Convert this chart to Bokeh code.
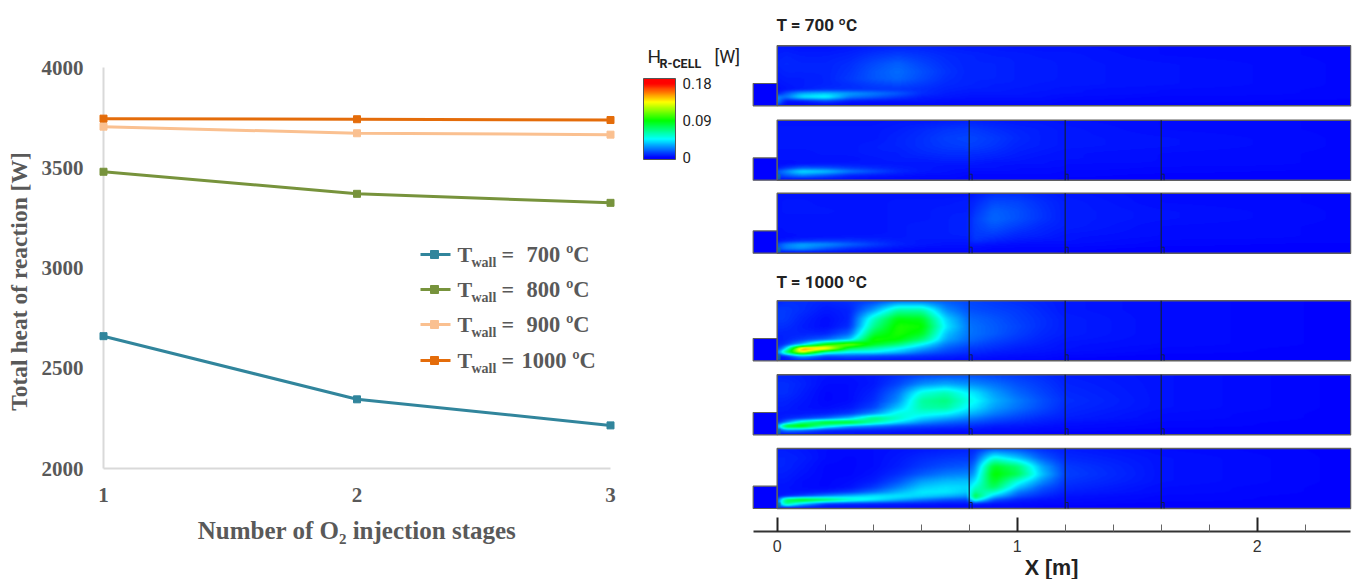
import numpy as np
from bokeh.core.properties import value
from bokeh.embed import file_html
from bokeh.layouts import row
from bokeh.models import ColorBar, FixedTicker, Label, LinearColorMapper, Range1d
from bokeh.plotting import figure
from bokeh.resources import INLINE

# ---------- line chart data ----------
stages = [1, 2, 3]
heat_700 = [2660, 2345, 2215]
heat_800 = [3480, 3370, 3325]
heat_900 = [3705, 3672, 3665]
heat_1000 = [3745, 3742, 3738]
series_temps = ["700", "800", "900", "1000"]
series_colors = ["#31859C", "#77933C", "#FAC090", "#E46C0A"]
y_ticks = [2000, 2500, 3000, 3500, 4000]

# ---------- heat fields, in 0.001 W ----------
field_x = [0, .03, .1, .2, .3, .4, .5, .6, .7, .8, .81, .9, 1.0, 1.1, 1.2, 1.6, 2.39]
field_y = [1.0, .85, .7, .57, .45, .35, .27, .2, .14, .07, 0]  # fraction of height, top row first

field_700_1 = [
    [4, 4, 3, 3, 4, 5, 6, 6, 5, 4, 4, 4, 3, 3, 3, 2, 1],
    [5, 6, 5, 5, 6, 9, 11, 9, 7, 6, 6, 5, 5, 4, 4, 2, 1],
    [6, 7, 6, 6, 8, 13, 17, 12, 8, 6, 6, 6, 5, 5, 4, 3, 1],
    [5, 6, 6, 6, 9, 15, 19, 14, 9, 6, 6, 6, 5, 5, 4, 3, 1],
    [4, 5, 5, 6, 10, 15, 18, 13, 8, 6, 6, 6, 5, 5, 4, 3, 1],
    [3, 4, 5, 6, 8, 11, 13, 10, 7, 6, 6, 5, 5, 4, 4, 3, 1],
    [2, 3, 5, 8, 8, 9, 9, 8, 6, 5, 5, 5, 4, 4, 3, 2, 1],
    [4, 14, 30, 35, 28, 22, 16, 8, 5, 4, 4, 4, 4, 3, 3, 2, 1],
    [25, 20, 42, 48, 22, 16, 10, 5, 4, 3, 3, 3, 3, 3, 2, 1, 1],
    [25, 3, 4, 12, 4, 3, 3, 3, 2, 2, 2, 2, 2, 2, 1, 1, 0],
    [10, 1, 1, 1, 1, 1, 1, 1, 1, 1, 1, 1, 1, 1, 1, 0, 0],
]
field_700_2 = [
    [3, 3, 3, 3, 3, 3, 4, 4, 5, 6, 6, 5, 4, 4, 3, 2, 1],
    [4, 4, 4, 4, 4, 4, 5, 7, 9, 10, 10, 8, 6, 5, 4, 2, 1],
    [4, 4, 4, 4, 4, 4, 6, 8, 11, 12, 12, 10, 7, 5, 4, 3, 1],
    [4, 4, 4, 4, 4, 5, 6, 8, 10, 11, 11, 9, 6, 5, 4, 3, 1],
    [3, 3, 3, 4, 4, 5, 5, 7, 8, 8, 8, 7, 5, 4, 3, 2, 1],
    [3, 3, 3, 3, 3, 4, 5, 5, 6, 6, 6, 5, 4, 3, 3, 2, 1],
    [2, 2, 3, 4, 4, 4, 4, 4, 4, 4, 4, 3, 3, 3, 2, 2, 1],
    [4, 8, 16, 14, 10, 7, 5, 4, 3, 3, 3, 3, 2, 2, 2, 1, 1],
    [15, 24, 42, 36, 22, 14, 7, 4, 3, 2, 2, 2, 2, 2, 1, 1, 0],
    [10, 15, 22, 14, 6, 4, 3, 2, 2, 1, 1, 1, 1, 1, 1, 0, 0],
    [3, 2, 2, 2, 2, 1, 1, 1, 1, 1, 1, 1, 1, 1, 0, 0, 0],
]
field_700_3 = [
    [3, 3, 3, 3, 3, 3, 3, 3, 3, 3, 4, 8, 8, 6, 4, 2, 1],
    [3, 4, 4, 3, 3, 3, 4, 4, 4, 5, 6, 13, 12, 8, 5, 2, 1],
    [3, 4, 4, 4, 3, 3, 4, 4, 5, 5, 8, 17, 14, 9, 5, 3, 1],
    [3, 3, 3, 3, 3, 3, 4, 4, 5, 6, 10, 18, 14, 9, 5, 3, 1],
    [3, 3, 3, 3, 3, 3, 4, 5, 5, 6, 10, 15, 11, 7, 5, 2, 1],
    [2, 3, 3, 3, 3, 3, 4, 5, 5, 6, 10, 12, 8, 6, 4, 2, 1],
    [2, 2, 3, 3, 4, 4, 4, 5, 5, 5, 10, 9, 6, 5, 3, 2, 1],
    [3, 5, 8, 10, 9, 7, 5, 4, 4, 4, 9, 6, 4, 3, 3, 1, 1],
    [12, 22, 30, 26, 18, 11, 6, 4, 3, 3, 4, 3, 2, 2, 2, 1, 0],
    [12, 22, 26, 15, 8, 5, 3, 2, 2, 2, 2, 1, 1, 1, 1, 0, 0],
    [3, 2, 2, 2, 2, 1, 1, 1, 1, 1, 1, 1, 1, 1, 0, 0, 0],
]
field_1000_1 = [
    [6, 8, 8, 6, 8, 12, 20, 20, 16, 12, 12, 10, 8, 6, 4, 2, 0],
    [10, 10, 8, 4, 6, 28, 60, 60, 25, 14, 14, 12, 10, 7, 4, 2, 0],
    [10, 10, 6, 2, 6, 55, 88, 85, 38, 18, 18, 15, 11, 8, 5, 2, 0],
    [8, 8, 5, 2, 8, 65, 95, 92, 42, 20, 20, 16, 12, 8, 5, 2, 0],
    [6, 6, 6, 6, 18, 80, 95, 85, 35, 20, 20, 16, 11, 7, 5, 2, 0],
    [5, 6, 10, 18, 35, 95, 90, 70, 30, 18, 18, 13, 9, 6, 4, 2, 0],
    [6, 8, 30, 90, 115, 85, 70, 45, 22, 14, 14, 10, 7, 5, 3, 2, 0],
    [8, 30, 160, 150, 75, 60, 45, 30, 16, 10, 10, 8, 5, 4, 3, 1, 0],
    [20, 70, 140, 60, 45, 45, 35, 20, 12, 8, 8, 5, 4, 3, 2, 1, 0],
    [5, 5, 30, 12, 15, 12, 10, 8, 6, 4, 4, 3, 2, 2, 1, 0, 0],
    [3, 3, 8, 4, 4, 4, 3, 3, 2, 2, 2, 1, 1, 1, 0, 0, 0],
]
field_1000_2 = [
    [6, 6, 5, 3, 3, 4, 8, 12, 14, 14, 14, 12, 10, 8, 5, 3, 0],
    [8, 8, 6, 2, 2, 4, 12, 25, 30, 25, 25, 20, 14, 10, 6, 3, 0],
    [8, 8, 5, 1, 2, 6, 20, 50, 58, 42, 42, 28, 18, 12, 7, 3, 0],
    [6, 6, 4, 1, 2, 8, 25, 62, 68, 48, 48, 32, 22, 14, 8, 3, 0],
    [5, 5, 3, 2, 4, 12, 35, 60, 62, 42, 42, 28, 20, 13, 7, 3, 0],
    [4, 4, 4, 5, 10, 25, 50, 50, 45, 32, 32, 22, 15, 10, 6, 2, 0],
    [4, 6, 10, 18, 35, 70, 55, 38, 30, 22, 22, 15, 11, 7, 5, 2, 0],
    [6, 20, 60, 90, 90, 60, 40, 25, 18, 14, 14, 10, 7, 5, 3, 1, 0],
    [25, 90, 100, 55, 30, 22, 15, 12, 10, 8, 8, 5, 4, 3, 2, 1, 0],
    [8, 25, 20, 8, 6, 6, 5, 4, 3, 3, 3, 2, 2, 1, 1, 0, 0],
    [3, 3, 3, 3, 3, 2, 2, 2, 1, 1, 1, 1, 1, 0, 0, 0, 0],
]
field_1000_3 = [
    [5, 5, 4, 2, 2, 2, 3, 4, 5, 6, 6, 16, 14, 8, 5, 2, 0],
    [6, 6, 5, 2, 1, 2, 4, 7, 9, 10, 8, 50, 35, 16, 7, 3, 0],
    [6, 6, 4, 1, 1, 2, 5, 10, 14, 16, 14, 85, 70, 30, 10, 3, 0],
    [5, 5, 3, 1, 1, 3, 8, 16, 22, 24, 22, 92, 75, 35, 11, 3, 0],
    [4, 4, 2, 1, 2, 5, 14, 28, 33, 34, 35, 85, 50, 25, 9, 3, 0],
    [3, 3, 2, 1, 3, 10, 22, 36, 40, 38, 50, 75, 35, 16, 7, 2, 0],
    [3, 3, 3, 5, 10, 20, 32, 42, 42, 35, 65, 55, 22, 11, 5, 2, 0],
    [3, 5, 12, 25, 35, 42, 42, 38, 32, 25, 85, 35, 14, 7, 3, 1, 0],
    [10, 75, 95, 80, 58, 45, 32, 22, 15, 12, 60, 15, 6, 3, 2, 1, 0],
    [10, 70, 35, 8, 6, 5, 4, 4, 3, 3, 5, 3, 2, 1, 1, 0, 0],
    [3, 3, 2, 2, 2, 2, 2, 1, 1, 1, 1, 1, 1, 0, 0, 0, 0],
]
fields = [field_700_1, field_700_2, field_700_3, field_1000_1, field_1000_2, field_1000_3]
injectors = [[], [.8, 1.2, 1.6], [.8, 1.2, 1.6], [.8, 1.2, 1.6], [.8, 1.2, 1.6], [.8, 1.2, 1.6]]
bar_ticks = [0, 0.09, 0.18]

SERIF = "Liberation Serif"
GREY = "#595959"

# ---------- left: line chart ----------
p1 = figure(width=630, height=579, x_range=Range1d(1, 3), y_range=Range1d(2000, 4000),
            toolbar_location=None, output_backend="svg",
            min_border_left=103, min_border_right=20, min_border_top=67, min_border_bottom=111)
p1.frame_align = False
p1.outline_line_color = None
p1.grid.visible = False
for ax in (p1.xaxis[0], p1.yaxis[0]):
    ax.axis_line_color = "#D9D9D9"
    ax.axis_line_width = 2
    ax.major_tick_line_color = None
    ax.minor_tick_line_color = None
    ax.major_label_text_font = SERIF
    ax.major_label_text_font_style = "bold"
    ax.major_label_text_font_size = "21px"
    ax.major_label_text_color = GREY
    ax.axis_label_text_font = SERIF
    ax.axis_label_text_font_style = "bold"
    ax.axis_label_text_color = GREY
p1.xaxis[0].axis_label_text_font_size = "25px"
p1.xaxis[0].ticker = FixedTicker(ticks=stages)
p1.yaxis[0].ticker = FixedTicker(ticks=y_ticks)
p1.xaxis[0].major_label_standoff = 13
p1.yaxis[0].major_label_standoff = 14
p1.xaxis[0].axis_label = "Number of O₂ injection stages"
p1.xaxis[0].axis_label_standoff = 12


def lx(px):
    return 1 + (px - 103) / 253.5


def ly(py):
    return 2000 + (468 - py) / 0.2005


p1.text(x=[lx(18)], y=[ly(281)], text=["Total heat of reaction [W]"], angle=np.pi / 2,
        text_align="center", text_baseline="middle", text_font=value(SERIF), level="overlay",
        text_font_style="bold", text_font_size="23.5px", text_color=GREY)

all_series = [heat_700, heat_800, heat_900, heat_1000]
legend_rows = [254, 289, 324, 360]
for vals, col, t, py in zip(all_series, series_colors, series_temps, legend_rows):
    p1.line(stages, vals, line_color=col, line_width=3, level="overlay")
    p1.scatter(stages, vals, marker="square", size=7, fill_color=col, line_color=col, level="overlay")
    p1.line([lx(420), lx(450)], [ly(py), ly(py)], line_color=col, line_width=3)
    p1.scatter([lx(434)], [ly(py)], marker="square", size=8, fill_color=col, line_color=col)
    common = dict(text_font=SERIF, text_font_style="bold", text_color=GREY, text_baseline="middle")
    p1.add_layout(Label(x=lx(457), y=ly(py), text="T", text_font_size="22px", **common))
    p1.add_layout(Label(x=lx(471), y=ly(py + 8), text="wall", text_font_size="14px", **common))
    p1.add_layout(Label(x=lx(501), y=ly(py), text="=", text_font_size="22px", **common))
    tx = 521 if t == "1000" else 526
    p1.add_layout(Label(x=lx(tx), y=ly(py), text=f"{t} ºC", text_font_size="22.5px", **common))

# ---------- right: fields ----------
XPM = 240.0
FRAME_LEFT, FRAME_RIGHT, FRAME_TOP, FRAME_BOTTOM = 630, 1351, 0, 531


def rx(px):
    return (px - 776.7) / XPM


def ry(py):
    return (FRAME_BOTTOM - py) / XPM


p2 = figure(width=729, height=579, x_range=Range1d(rx(FRAME_LEFT), rx(FRAME_RIGHT)),
            y_range=Range1d(0, ry(FRAME_TOP)), toolbar_location=None, output_backend="svg",
            min_border_left=0, min_border_right=8, min_border_top=0, min_border_bottom=48)
p2.frame_align = False
p2.outline_line_color = None
p2.grid.visible = False
p2.yaxis.visible = False

ax = p2.xaxis[0]
ax.ticker = FixedTicker(ticks=[0, 1, 2],
                        minor_ticks=[.2, .4, .6, .8, 1.2, 1.4, 1.6, 1.8, 2.2])
ax.bounds = (-0.1, 2.39)
ax.axis_line_color = "#333333"
ax.axis_line_width = 2
ax.major_tick_in = 14
ax.major_tick_out = 0
ax.major_tick_line_width = 2
ax.major_tick_line_color = "#222222"
ax.minor_tick_in = 7
ax.minor_tick_out = 0
ax.minor_tick_line_color = "#666666"
ax.major_label_text_font = "Liberation Sans"
ax.major_label_text_font_size = "16px"
ax.major_label_text_color = "#333333"
ax.major_label_standoff = 8

p2.text(x=[rx(1051)], y=[ry(567)], text=["X [m]"], text_align="center", text_baseline="middle",
        text_font=value("Liberation Sans"), text_font_style="bold", text_font_size="21.5px",
        text_color="#222222", level="overlay")

LOW, HIGH = -0.0049, 0.1925
knots_v = [0, .045, .09, .135, .18]
knots_r = [0, 0, 0, 255, 255]
knots_g = [0, 255, 255, 255, 0]
knots_b = [255, 255, 0, 0, 0]
pal_v = LOW + (np.arange(256) + .5) / 256 * (HIGH - LOW)
palette = ["#%02x%02x%02x" % (int(np.interp(v, knots_v, knots_r)),
                              int(np.interp(v, knots_v, knots_g)),
                              int(np.interp(v, knots_v, knots_b))) for v in pal_v]
mapper = LinearColorMapper(palette=palette, low=LOW, high=HIGH)

PANEL_H = 60 / XPM
INLET_H = 22.3 / XPM
panel_bottoms = [105.3, 179.7, 252.7, 360.3, 434.3, 508.0]
fine_x = np.linspace(0, 2.39, 574)
fine_y = np.linspace(0, 1, 60)
fy_asc = np.array(field_y[::-1])
EDGE = "#5f5f5f"
INJ = "#102040"


def soften(g):
    """The source picture is blurred: a short vertical and a longer horizontal smoothing."""
    out = np.copy(g)
    for _ in range(2):
        prev = np.copy(out)
        out[1:-1, :] = (prev[:-2, :] + 2 * prev[1:-1, :] + prev[2:, :]) / 4
    kernel = np.ones(9) / 9
    pad = np.pad(out, ((0, 0), (4, 4)), mode="edge")
    return np.array([np.convolve(r, kernel, mode="valid") for r in pad])


for m, inj, bottom in zip(fields, injectors, panel_bottoms):
    arr = np.array(m, dtype=float)[::-1]
    by_x = np.array([np.interp(fine_x, field_x, rowv) for rowv in arr])
    grid = np.array([np.interp(fine_y, fy_asc, by_x[:, j]) for j in range(by_x.shape[1])]).T
    y0 = ry(bottom)
    p2.image(image=[soften(grid) / 1000.0], x=0, y=y0, dw=2.39, dh=PANEL_H, color_mapper=mapper)
    p2.quad(left=[-0.1], right=[0], bottom=[y0], top=[y0 + INLET_H],
            fill_color="#0000ff", line_color=EDGE, line_width=1.2)
    p2.quad(left=[0], right=[2.39], bottom=[y0], top=[y0 + PANEL_H],
            fill_color=None, line_color=EDGE, line_width=1.4)
    if inj:
        p2.segment(x0=inj, x1=inj, y0=[y0] * len(inj), y1=[y0 + PANEL_H] * len(inj),
                   line_color=INJ, line_width=1.3, line_alpha=.95)
        stub = [i + 0.012 for i in inj]
        p2.segment(x0=stub, x1=stub, y0=[y0] * len(inj), y1=[y0 + 6 / XPM] * len(inj),
                   line_color=INJ, line_width=1, line_alpha=.9)
        p2.segment(x0=inj, x1=stub, y0=[y0 + 6 / XPM] * len(inj), y1=[y0 + 6 / XPM] * len(inj),
                   line_color=INJ, line_width=1, line_alpha=.9)
        p2.quad(left=[0.002], right=[0.014], bottom=[y0 + 1 / XPM], top=[y0 + 6 / XPM],
                fill_color="#0c7f9c", fill_alpha=.7, line_color=None)

bar = ColorBar(color_mapper=mapper, location=(13, 372), width=32, height=81, padding=0, margin=0,
               ticker=FixedTicker(ticks=bar_ticks), major_label_overrides={0: "0", 0.09: "0.09", 0.18: "0.18"},
               major_tick_line_color=None, bar_line_color="#555555", bar_line_width=1,
               border_line_color=None, background_fill_color=None,
               major_label_text_font="Roboto", major_label_text_font_size="15px",
               major_label_text_color="#222222", label_standoff=7)
p2.add_layout(bar, "center")

for txt, px, py, size, style in [("T = 700 ºC", 776, 24, "17px", "bold"),
                                 ("T = 1000 ºC", 776, 281, "17px", "bold"),
                                 ("H", 647, 56, "19px", "normal"),
                                 ("R-CELL", 659, 62.5, "12.5px", "bold"),
                                 ("[W]", 714, 56, "18px", "normal")]:
    p2.add_layout(Label(x=rx(px), y=ry(py), text=txt, text_font="Roboto", text_font_size=size,
                        text_font_style=style, text_color="#222222", text_baseline="middle"))

layout = row(p1, p2, spacing=0)
open("out.html", "w").write(file_html(layout, INLINE))
